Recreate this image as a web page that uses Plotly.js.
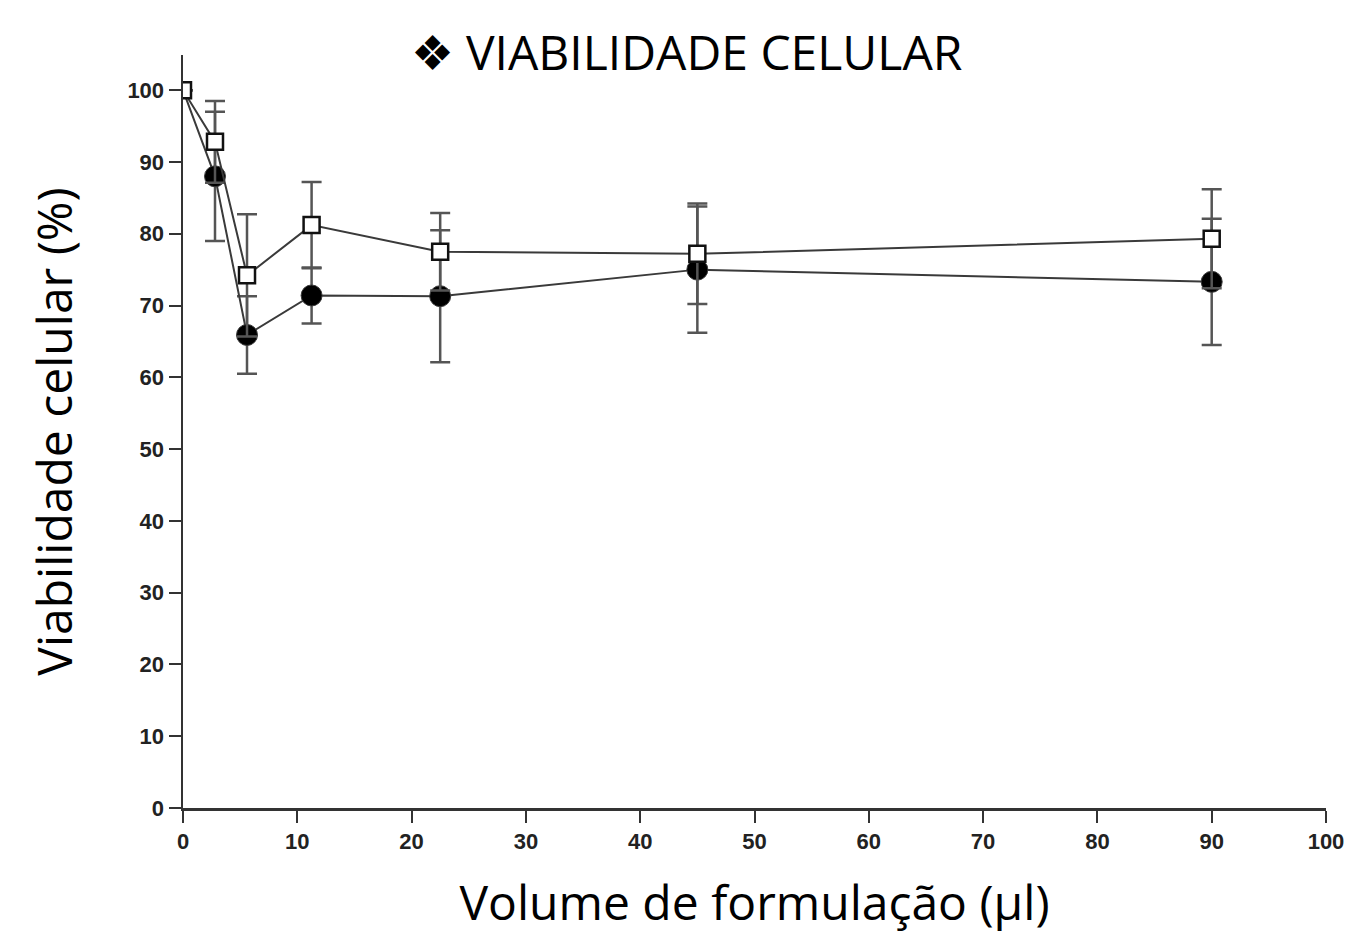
<!DOCTYPE html>
<html>
<head>
<meta charset="utf-8">
<script src="https://cdn.plot.ly/plotly-3.0.1.min.js"></script>
<style>html,body{margin:0;padding:0;background:#fff;}#chart{width:1346px;height:934px;}</style>
</head>
<body>
<div id="chart"></div>
<script>
const volumes = [0, 2.8, 5.6, 11.25, 22.5, 45, 90];
const squareValues = [100, 92.8, 74.2, 81.2, 77.5, 77.2, 79.3];
const squareErrors = [0, 5.7, 8.5, 6.0, 5.4, 7.0, 6.9];
const circleValues = [100, 88.0, 65.9, 71.4, 71.3, 75.0, 73.3];
const circleErrors = [0, 9.0, 5.4, 3.9, 9.2, 8.8, 8.8];
const xTicks = [0, 10, 20, 30, 40, 50, 60, 70, 80, 90, 100];
const yTicks = [0, 10, 20, 30, 40, 50, 60, 70, 80, 90, 100];

const lineColor = '#3a3a3a';
const errColor = '#555555';

const traces = [
  {
    x: volumes, y: circleValues, type: 'scatter', mode: 'lines+markers',
    line: {color: lineColor, width: 2},
    marker: {symbol: 'circle', size: volumes.map(v => v === 0 ? 0 : 21), color: '#000', opacity: 1},
    error_y: {type: 'data', array: circleErrors, visible: true, color: errColor, thickness: 2.5, width: 10},
    cliponaxis: false, showlegend: false
  },
  {
    x: volumes, y: squareValues, type: 'scatter', mode: 'lines+markers',
    line: {color: lineColor, width: 2},
    marker: {symbol: 'square', size: 16, color: '#fff', opacity: 1, line: {width: 2.5, color: '#111'}},
    error_y: {type: 'data', array: squareErrors, visible: true, color: errColor, thickness: 2.5, width: 10},
    cliponaxis: true, showlegend: false
  }
];

const tickFont = {family: 'Liberation Sans, Arial, sans-serif', size: 22, color: '#222', weight: 'bold'};
const titleFont = {family: 'Open Sans, sans-serif', size: 48, color: '#000'};

const layout = {
  width: 1346, height: 934,
  paper_bgcolor: '#fff', plot_bgcolor: '#fff',
  margin: {l: 183, r: 20, t: 55, b: 126},
  title: {text: '❖ VIABILIDADE CELULAR', font: titleFont, xref: 'container', x: 0.51, xanchor: 'center', yref: 'container', y: 0.943, yanchor: 'middle'},
  xaxis: {
    range: [0, 100], tickvals: xTicks, ticktext: xTicks.map(String),
    showgrid: false, zeroline: false, showline: true, linecolor: '#333', linewidth: 2.5,
    ticks: 'outside', ticklen: 12, tickwidth: 2, tickcolor: '#333',
    tickfont: tickFont,
    title: {text: 'Volume de formulação (µl)', font: titleFont, standoff: 45}
  },
  yaxis: {
    range: [0, 104.9], tickvals: yTicks, ticktext: yTicks.map(String),
    showgrid: false, zeroline: false, showline: true, linecolor: '#333', linewidth: 2.5,
    ticks: 'outside', ticklen: 12, tickwidth: 2, tickcolor: '#333',
    tickfont: tickFont,
    title: {text: 'Viabilidade celular (%)', font: titleFont, standoff: 40}
  }
};

Plotly.newPlot('chart', traces, layout, {displayModeBar: false, staticPlot: true});
</script>
</body>
</html>
